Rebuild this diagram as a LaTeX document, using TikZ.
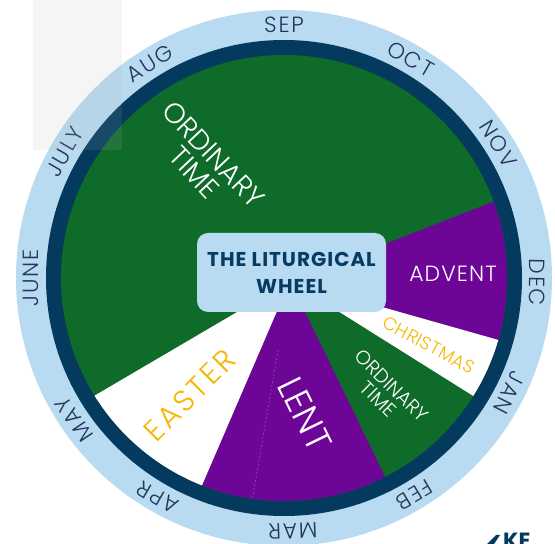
\documentclass[tikz,border=0pt]{standalone}
\usepackage{fontspec}
\setmainfont{Poppins}
\newfontfamily\lightfont{Poppins Light}
\usetikzlibrary{calc}
\definecolor{otgreen}{HTML}{0E6B2A}
\definecolor{lpurple}{HTML}{6D0596}
\definecolor{ringblue}{HTML}{033A5E}
\definecolor{lightblue}{HTML}{B8DBF2}
\definecolor{gold}{HTML}{F5B800}
\definecolor{navytext}{HTML}{24365A}
\definecolor{boxtext}{HTML}{063B63}
\definecolor{seam}{HTML}{9A55BE}
\begin{document}
\begin{tikzpicture}[x=1pt,y=1pt,
  month/.style={text=navytext, font=\lightfont\addfontfeatures{LetterSpace=8}\fontsize{22}{22}\selectfont, inner sep=0pt},
  seasonlabel/.style={align=center, inner sep=0pt},
  titlebox/.style={fill=lightblue, rounded corners=11pt, minimum width=189pt, minimum height=79pt,
    text=boxtext, font=\bfseries\addfontfeatures{LetterSpace=5}\fontsize{20}{27}\selectfont, align=center, inner sep=0pt}]
\useasboundingbox (0,0) rectangle (555,544);
\begin{scope}
\clip (0,0) rectangle (555,544);
\coordinate (C) at (284,266);
\coordinate (A) at (290,263);
\fill[lightblue] (C) circle (268);
\fill[ringblue] (C) circle (238);
\fill[otgreen] (C) circle (223);
\begin{scope}
\clip (C) circle (223);
\fill[lpurple] (A) -- ($(A)+(21.3:330)$) -- ($(A)+(-15.8:330)$) -- cycle;
\fill[white] (A) -- ($(A)+(-15.8:330)$) -- ($(A)+(-32.1:330)$) -- cycle;
\fill[lpurple] (A) -- ($(A)+(-64.1:330)$) -- ($(A)+(-113.3:330)$) -- cycle;
\fill[white] (A) -- ($(A)+(-113.3:330)$) -- ($(A)+(-149.6:330)$) -- cycle;
\draw[seam, line width=0.5pt, dash pattern=on 2pt off 2pt] ($(A)+(-99.8:70)$) -- ($(A)+(-99.8:222)$);
\end{scope}
\foreach \m/\a in {SEP/90, OCT/60, NOV/32, DEC/-1, JAN/-27, FEB/-59, MAR/-88, APR/-120, MAY/-146, JUNE/180, JULY/150, AUG/122}
  \node[month, rotate=\a-90] (m\m) at ($(C)+(\a:253)$) {\m};
\node[titlebox] (title) at (291.5,271.5) {THE LITURGICAL\\WHEEL};
\node[seasonlabel, text=white, rotate=-46.6, font=\lightfont\fontsize{28}{26}\selectfont] (ot1) at (204,380.5) {ORDINARY\\TIME};
\node[seasonlabel, text=white, font=\lightfont\addfontfeatures{LetterSpace=5}\fontsize{22}{22}\selectfont] (advent) at (453,270) {ADVENT};
\node[seasonlabel, text=gold, rotate=-28.5, font=\lightfont\addfontfeatures{LetterSpace=3}\fontsize{18}{18}\selectfont] (christmas) at (429,199) {CHRISTMAS};
\node[seasonlabel, text=white, rotate=-44.6, font=\lightfont\fontsize{19.5}{19}\selectfont] (ot2) at (385,151.5) {ORDINARY\\TIME};
\node[seasonlabel, text=white, rotate=-64, font=\lightfont\fontsize{36}{36}\selectfont] (lent) at (305,130) {LENT};
\node[seasonlabel, text=gold, rotate=45, font=\lightfont\addfontfeatures{LetterSpace=10}\fontsize{30}{30}\selectfont] (easter) at (190,149) {EASTER};
\fill[gray!60, opacity=0.13] (33,394) rectangle (122,544);
\fill[ringblue] (487,0) -- (494,0) -- (500,9) -- (496,9) -- cycle;
\node[anchor=north west, text=ringblue, font=\bfseries\fontsize{22}{22}\selectfont, inner sep=0pt] (logo) at (503,11) {KE};
\end{scope}
\end{tikzpicture}
\end{document}
